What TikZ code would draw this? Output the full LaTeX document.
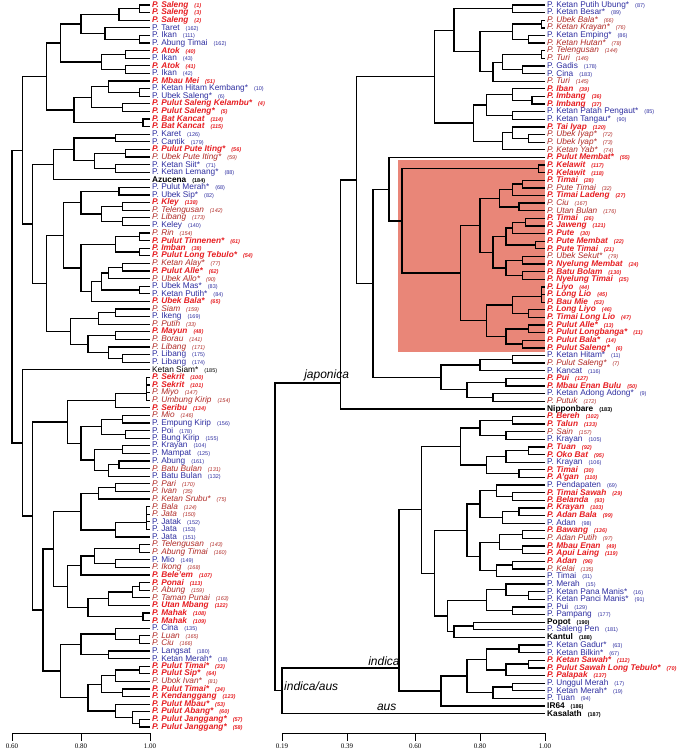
\documentclass[tikz,border=0pt]{standalone}
\usepackage{fontspec}
\setmainfont{Liberation Sans}
\newfontfamily\axfont{Liberation Serif}
\usetikzlibrary{calc}
\definecolor{leafred}{RGB}{230,30,34}
\definecolor{leafbrown}{RGB}{176,42,38}
\definecolor{leafblue}{RGB}{46,46,160}
\definecolor{shaded-red}{RGB}{233,134,120}
\newcommand\lfont{\fontsize{8.3}{8.3}\selectfont}
\newcommand\nr[1]{\hspace{6pt}{\fontsize{5.5}{5.5}\selectfont(#1)}}
\tikzstyle{leaf}=[anchor=west, inner sep=0.5pt, font=\lfont]
\tikzstyle{rb}=[leaf, text=leafred, font=\lfont\bfseries\itshape]
\tikzstyle{ri}=[leaf, text=leafbrown, font=\lfont\itshape]
\tikzstyle{bl}=[leaf, text=leafblue]
\tikzstyle{bk}=[leaf, text=black, font=\lfont\bfseries]
\tikzstyle{kn}=[leaf, text=black]
\tikzstyle{tree}=[line width=1.3pt]
\tikzstyle{group}=[font=\itshape\fontsize{12}{12}\selectfont, inner sep=1pt]
\tikzstyle{tick}=[font=\axfont\fontsize{7}{7}\selectfont]
% join two clades at similarity #2
\newcommand\jn[4]{%
  \coordinate (tmpm) at ($(#3)!.5!(#4)$);
  \coordinate (tmpx) at (#2,0);
  \coordinate (#1) at (tmpm -| tmpx);
  \draw[tree] (#3) -| (#1) |- (#4);
}
% same, node put at height #3
\newcommand\jnat[5]{%
  \coordinate (#1) at (#2,#3);
  \draw[tree] (#4) -| (#1) |- (#5);
}
\begin{document}
\begin{tikzpicture}[x=1pt, y=-1pt]
\useasboundingbox (0,0) rectangle (685,750);

%% left panel
\begin{scope}[x=345pt, xshift=-195pt]
\foreach \st/\lab/\nm [count=\i] in {rb/P. Saleng/1, rb/P. Saleng/3, rb/P. Saleng/2, bl/P. Taret/162, bl/P. Ikan/111, bl/P. Abung Timai/162, rb/P. Atok/40, bl/P. Ikan/43, rb/P. Atok/41, bl/P. Ikan/42, rb/P. Mbau Mei/51, bl/P. Ketan Hitam Kembang*/10, bl/P. Ubek Saleng*/6, rb/P. Pulut Saleng Kelambu*/4, rb/P. Pulut Saleng*/5, rb/P. Bat Kancat/114, rb/P. Bat Kancat/115, bl/P. Karet/126, bl/P. Cantik/179, rb/P. Pulut Pute Iting*/56, ri/P. Ubek Pute Iting*/59, bl/P. Ketan Siit*/71, bl/P. Ketan Lemang*/88, bk/Azucena/184, bl/P. Pulut Merah*/68, bl/P. Ubek Sip*/82, rb/P. Kley/138, ri/P. Telengusan/142, ri/P. Libang/173, bl/P. Keley/140, ri/P. Rin/154, rb/P. Pulut Tinnenen*/61, rb/P. Imban/38, rb/P. Pulut Long Tebulo*/54, ri/P. Ketan Alay*/77, rb/P. Pulut Alle*/62, ri/P. Ubek Allo*/90, bl/P. Ubek Mas*/83, bl/P. Ketan Putih*/84, rb/P. Ubek Bala*/65, ri/P. Siam/159, bl/P. Ikeng/169, ri/P. Putih/33, rb/P. Mayun/48, ri/P. Borau/141, ri/P. Libang/171, bl/P. Libang/175, bl/P. Libang/174, kn/Ketan Siam*/185, rb/P. Sekrit/100, rb/P. Sekrit/101, ri/P. Miyo/147, ri/P. Umbung Kirip/154, rb/P. Seribu/134, ri/P. Mio/146, bl/P. Empung Kirip/156, bl/P. Poi/178, bl/P. Bung Kirip/155, bl/P. Krayan/104, bl/P. Mampat/125, bl/P. Abung/161, ri/P. Batu Bulan/131, bl/P. Batu Bulan/132, ri/P. Pari/170, ri/P. Ivan/35, ri/P. Ketan Srubu*/75, ri/P. Bala/124, ri/P. Jata/150, bl/P. Jatak/152, bl/P. Jata/153, bl/P. Jata/151, ri/P. Telengusan/143, ri/P. Abung Timai/160, bl/P. Mio/149, ri/P. Ikong/168, rb/P. Bele'em/107, rb/P. Ponai/113, ri/P. Abung/159, ri/P. Taman Punai/163, rb/P. Utan Mbang/122, rb/P. Mahak/108, rb/P. Mahak/109, bl/P. Cina/135, ri/P. Luan/165, ri/P. Ciu/166, bl/P. Langsat/180, bl/P. Ketan Merah*/18, rb/P. Pulut Timai*/33, rb/P. Pulut Sip*/64, ri/P. Ubok Ivan*/81, rb/P. Pulut Timai*/34, rb/P. Kendanggang/123, rb/P. Pulut Mbau*/53, rb/P. Pulut Abang*/60, rb/P. Pulut Janggang*/57, rb/P. Pulut Janggang*/58}
{
  \coordinate (L\i) at (1, {5+(\i-1)*7.6});
  \node[\st] (Lt\i) at ([xshift=1.5pt]L\i) {\lab\nr{\nm}};
}
% upper clade
\jn{la}{0.97}{L1}{L2} \jn{lb}{0.91}{la}{L3}
\jn{lc}{0.97}{L5}{L6} \jn{ld}{0.87}{L4}{lc}
\jn{le}{0.8}{lb}{ld}
\jn{lf}{0.93}{L7}{L8} \jn{lg}{0.93}{L9}{L10} \jn{lh}{0.86}{lf}{lg}
\jn{li}{0.74}{le}{lh}
\jn{lj}{0.97}{L12}{L13} \jn{lk}{0.88}{L11}{lj}
\jn{ll}{0.92}{L14}{L15} \jn{lm}{0.83}{lk}{ll}
\jn{ln}{0.98}{L16}{L17} \jn{lo}{0.78}{lm}{ln}
\jn{lp}{0.7}{li}{lo}
\jn{lq}{0.9}{L18}{L19}
\jn{lr}{0.93}{L20}{L21} \jn{ls}{0.9}{L22}{L23} \jn{lt}{0.84}{lr}{ls}
\jn{lu}{0.78}{lq}{lt}
\jn{lv}{0.72}{lu}{L24}
\jn{lw}{0.91}{L25}{L26}
\jn{lx1}{0.92}{L27}{L28} \jn{lx2}{0.92}{L29}{L30} \jn{lx3}{0.86}{lx1}{lx2}
\jn{lx4}{0.8}{lw}{lx3}
\jn{ly1}{0.97}{L31}{L32} \jn{ly2}{0.97}{L33}{L34} \jn{ly3}{0.9}{ly1}{ly2}
\jn{ly4}{0.92}{L35}{L36} \jn{ly5}{0.88}{ly4}{L37}
\jn{ly6}{0.97}{L38}{L39} \jn{ly7}{0.86}{ly5}{ly6}
\jn{ly8}{0.83}{ly7}{L40}
\jn{ly9}{0.8}{ly3}{ly8}
\jn{lz1}{0.75}{lx4}{ly9}
\jn{lz2}{0.9}{L41}{L42} \jn{lz3}{0.85}{lz2}{L43}
\jn{lz4}{0.9}{L44}{L45} \jn{lz5}{0.92}{L47}{L48} \jn{lz6}{0.88}{L46}{lz5} \jn{lz7}{0.82}{lz4}{lz6}
\jn{lz8}{0.77}{lz3}{lz7}
\jn{lz9}{0.7}{lz1}{lz8}
\jn{lT1}{0.66}{lv}{lz9}
\jn{lT}{0.63}{lp}{lT1}
% lower clade
\jn{lb1}{0.99}{L50}{L51} \jn{lb2}{0.99}{lb1}{L52} \jn{lb3}{0.99}{lb2}{L53}
\jn{lb4}{0.9}{lb3}{L54}
\jn{lb5}{0.92}{L55}{L56} \jn{lb6}{0.93}{L57}{L58} \jn{lb7}{0.86}{lb5}{lb6}
\jn{lb8}{0.92}{L59}{L60} \jn{lb9}{0.91}{L61}{L62} \jn{lb10}{0.88}{lb9}{L63} \jn{lb11}{0.84}{lb8}{lb10}
\jn{lb12}{0.8}{lb7}{lb11}
\jn{lb13}{0.76}{lb4}{lb12}
\jn{lc1}{0.9}{L64}{L65} \jn{lc2}{0.85}{lc1}{L66}
\jn{lc3}{0.99}{L67}{L68} \jn{lc4}{0.99}{lc3}{L69} \jn{lc5}{0.99}{lc4}{L70} \jn{lc6}{0.9}{lc5}{L71}
\jn{lc7}{0.8}{lc2}{lc6}
\jn{lc8}{0.97}{L72}{L73} \jn{lc9}{0.9}{L74}{L75} \jn{lc10}{0.84}{lc8}{lc9}
\jn{lc11}{0.8}{lc10}{L76}
\jn{lc12}{0.97}{L77}{L78} \jn{lc13}{0.95}{lc12}{L79} \jn{lc14}{0.88}{lc13}{L80}
\jn{lc15}{0.98}{L81}{L82} \jn{lc16}{0.82}{lc14}{lc15}
\jn{lc17}{0.76}{lc11}{lc16}
\jn{lc18}{0.72}{lc7}{lc17}
\jn{ld1}{0.97}{L84}{L85} \jn{ld2}{0.9}{L83}{ld1}
\jn{ld3}{0.88}{L86}{L87} \jn{ld4}{0.8}{ld2}{ld3}
\jn{ld5}{0.97}{L88}{L89} \jn{ld6}{0.9}{ld5}{L90} \jn{ld7}{0.92}{L91}{L92} \jn{ld8}{0.86}{ld6}{ld7}
\jn{ld9}{0.97}{L95}{L96} \jn{ld10}{0.95}{L94}{ld9} \jn{ld11}{0.9}{L93}{ld10}
\jn{ld12}{0.82}{ld8}{ld11}
\jn{ld13}{0.74}{ld4}{ld12}
\jn{lB1}{0.69}{lc18}{ld13}
\jn{lB2}{0.66}{lb13}{lB1}
\jn{lB}{0.63}{L49}{lB2}
\jn{lroot}{0.6}{lT}{lB}
% axis
\draw[line width=.8pt] (0.6,733) -- (1,733);
\foreach \v/\s in {0.6/0.60, 0.8/0.80, 1/1.00} {
  \draw[line width=.8pt] (\v,733) -- (\v,741);
  \node[tick] (ax\s) at (\v,746) {\s};
}
\end{scope}

%% right panel
\begin{scope}[x=324.7pt, xshift=220.3pt]
\fill[shaded-red] (0.547,160) rectangle (1,352);
\foreach \st/\lab/\nm [count=\i] in {bl/P. Ketan Putih Ubung*/87, bl/P. Ketan Besar*/89, ri/P. Ubek Bala*/66, ri/P. Ketan Krayan*/76, bl/P. Ketan Emping*/86, ri/P. Ketan Hutan*/78, ri/P. Telengusan/144, ri/P. Turi/146, bl/P. Gadis/178, bl/P. Cina/183, ri/P. Turi/145, rb/P. Iban/39, rb/P. Imbang/36, rb/P. Imbang/37, bl/P. Ketan Patah Pengaut*/85, bl/P. Ketan Tangau*/90, rb/P. Tai Iyap/120, ri/P. Ubek Iyap*/72, ri/P. Ubek Iyap*/73, ri/P. Ketan Yab*/74, rb/P. Pulut Membat*/55, rb/P. Kelawit/117, rb/P. Kelawit/118, rb/P. Timai/28, ri/P. Pute Timai/32, rb/P. Timai Ladeng/27, ri/P. Ciu/167, ri/P. Utan Bulan/176, rb/P. Timai/26, rb/P. Jaweng/121, rb/P. Pute/30, rb/P. Pute Membat/22, rb/P. Pute Timai/21, ri/P. Ubek Sekut*/79, rb/P. Nyelung Membat/24, rb/P. Batu Bolam/130, rb/P. Nyelung Timai/25, rb/P. Liyo/44, rb/P. Long Lio/45, rb/P. Bau Mie/53, rb/P. Long Liyo/46, rb/P. Timai Long Lio/47, rb/P. Pulut Alle*/13, rb/P. Pulut Longbanga*/11, rb/P. Pulut Bala*/14, rb/P. Pulut Saleng*/6, bl/P. Ketan Hitam*/11, ri/P. Pulut Saleng*/7, bl/P. Kancat/116, rb/P. Pui/127, rb/P. Mbau Enan Bulu/50, bl/P. Ketan Adong Adong*/9, ri/P. Putuk/172, bk/Nipponbare/183, rb/P. Bereh/102, rb/P. Talun/133, ri/P. Sain/157, bl/P. Krayan/105, rb/P. Tuan/92, rb/P. Oko Bat/95, bl/P. Krayan/106, rb/P. Timai/30, rb/P. A'gan/110, bl/P. Pendapaten/69, rb/P. Timai Sawah/29, rb/P. Belanda/93, rb/P. Krayan/103, rb/P. Adan Bala/99, bl/P. Adan/98, rb/P. Bawang/136, ri/P. Adan Putih/97, rb/P. Mbau Enan/49, rb/P. Apui Laing/119, rb/P. Adan/96, ri/P. Kelai/135, bl/P. Timai/31, bl/P. Merah/15, bl/P. Ketan Pana Manis*/16, bl/P. Ketan Panci Manis*/91, bl/P. Pui/129, bl/P. Pampang/177, bk/Popot/190, bl/P. Saleng Pen/181, bk/Kantul/188, bl/P. Ketan Gadur*/63, bl/P. Ketan Bilkin*/67, rb/P. Ketan Sawah*/112, rb/P. Pulut Sawah Long Tebulo*/70, rb/P. Palapak/137, bl/P. Unggul Merah/17, bl/P. Ketan Merah*/19, bl/P. Tuan/94, bk/IR64/186, bk/Kasalath/187}
{
  \coordinate (R\i) at (1, {5+(\i-1)*7.62});
  \node[\st] (Rt\i) at ([xshift=1.5pt]R\i) {\lab\nr{\nm}};
}
% japonica
\jn{ra1}{0.9}{R1}{R2}
\jn{ra2}{0.99}{R3}{R4} \jn{ra3}{0.95}{R5}{R6} \jn{ra4}{0.9}{ra2}{ra3}
\jn{ra5}{0.99}{R7}{R8} \jn{ra6}{0.93}{R9}{R10} \jn{ra7}{0.87}{ra5}{ra6} \jn{ra8}{0.84}{ra7}{R11}
\jn{ra9}{0.8}{ra4}{ra8} \jn{ra10}{0.72}{ra1}{ra9}
\jn{ra11}{0.96}{R13}{R14} \jn{ra12}{0.9}{R12}{ra11}
\jn{ra13}{0.9}{R15}{R16} \jn{ra14}{0.82}{ra12}{ra13}
\jn{ra15}{0.95}{R18}{R19} \jn{ra16}{0.9}{R17}{ra15} \jn{ra17}{0.87}{ra16}{R20}
\jn{ra18}{0.78}{ra14}{ra17}
\jn{ra19}{0.66}{ra10}{ra18}
% shaded group
\jn{rs1}{0.98}{R22}{R23}
\jn{rs2}{0.93}{R24}{R25} \jn{rs3}{0.9}{rs2}{R26} \jn{rs4}{0.92}{R27}{R28} \jn{rs5}{0.86}{rs3}{rs4}
\jn{rs6}{0.94}{R29}{R30} \jn{rs7}{0.9}{rs6}{R31} \jn{rs8}{0.97}{R32}{R33} \jn{rs9}{0.88}{rs7}{rs8}
\jn{rs10}{0.93}{R34}{R35} \jn{rs11}{0.93}{R36}{R37} \jn{rs12}{0.88}{rs10}{rs11}
\jn{rs13}{0.84}{rs9}{rs12} \jn{rs14}{0.8}{rs5}{rs13}
\jn{rs15}{0.99}{R38}{R39} \jn{rs16}{0.99}{rs15}{R40} \jn{rs17}{0.95}{R41}{R42} \jn{rs18}{0.9}{rs16}{rs17}
\jn{rs19}{0.95}{R43}{R44} \jn{rs20}{0.93}{R45}{R46} \jn{rs21}{0.88}{rs19}{rs20}
\jn{rs22}{0.82}{rs18}{rs21}
\jn{rs23}{0.74}{rs14}{rs22}
\jn{rs24}{0.56}{rs1}{rs23}
\jn{rs25}{0.52}{R21}{rs24}
\jn{rt1}{0.9}{R47}{R48} \jn{rt2}{0.8}{rt1}{R49}
\jn{rt3}{0.88}{R50}{R51} \jn{rt4}{0.84}{R52}{R53} \jn{rt5}{0.76}{rt3}{rt4}
\jn{rt6}{0.68}{rt2}{rt5}
\jn{rt7}{0.47}{rs25}{rt6}
\jn{rt8}{0.42}{ra19}{rt7}
\jnat{rjap}{0.37}{383}{rt8}{R54}
% indica
\jn{ru1}{0.9}{R55}{R56} \jn{ru2}{0.88}{R57}{R58} \jn{ru3}{0.8}{ru1}{ru2}
\jn{ru4}{0.95}{R59}{R60} \jn{ru5}{0.88}{ru4}{R61} \jn{ru6}{0.92}{R62}{R63} \jn{ru7}{0.82}{ru5}{ru6}
\jn{ru8}{0.74}{ru3}{ru7}
\jn{ru9}{0.9}{R65}{R66} \jn{ru10}{0.85}{R64}{ru9}
\jn{ru11}{0.92}{R67}{R68} \jn{ru12}{0.87}{ru11}{R69}
\jn{ru13}{0.8}{ru10}{ru12}
\jn{ru14}{0.93}{R70}{R71} \jn{ru15}{0.93}{R72}{R73} \jn{ru16}{0.86}{ru14}{ru15}
\jn{ru17}{0.9}{R74}{R75} \jn{ru18}{0.85}{ru17}{R76}
\jn{ru19}{0.8}{ru16}{ru18} \jn{ru20}{0.76}{ru13}{ru19}
\jn{ru21}{0.95}{R78}{R79} \jn{ru22}{0.88}{R77}{ru21}
\jn{ru23}{0.9}{R80}{R81} \jn{ru24}{0.82}{ru22}{ru23}
\jn{ru25}{0.78}{R82}{R83} \jn{ru26}{0.72}{ru25}{R84}
\jn{ru27}{0.7}{ru24}{ru26}
\jn{ru28}{0.66}{ru20}{ru27}
\jn{ru29}{0.62}{ru8}{ru28}
\jn{rv1}{0.92}{R85}{R86} \jn{rv2}{0.95}{R87}{R88} \jn{rv3}{0.88}{rv2}{R89} \jn{rv4}{0.82}{rv1}{rv3}
\jn{rv5}{0.9}{R90}{R91} \jn{rv6}{0.84}{rv5}{R92} \jn{rv7}{0.76}{rv4}{rv6}
\jn{rv8}{0.68}{rv7}{R93}
\jnat{rind}{0.55}{668}{ru29}{rv8}
% aus and root
\jn{rindaus}{0.19}{rind}{R94}
\jn{rroot}{0.168}{rjap}{rindaus}
\node[group, anchor=south west] (lbjap) at (0.255,382) {japonica};
\node[group, anchor=south west] (lbind) at (0.452,667) {indica};
\node[group, anchor=west] (lbia) at (0.193,686) {indica/aus};
\node[group, anchor=south west] (lbaus) at (0.479,712) {aus};
% axis
\draw[line width=.8pt] (0.19,733) -- (1,733);
\foreach \v/\s in {0.19/0.19, 0.39/0.39, 0.6/0.60, 0.8/0.80, 1/1.00} {
  \draw[line width=.8pt] (\v,733) -- (\v,741);
  \node[tick] (bx\s) at (\v,746) {\s};
}
\end{scope}
\end{tikzpicture}
\end{document}
